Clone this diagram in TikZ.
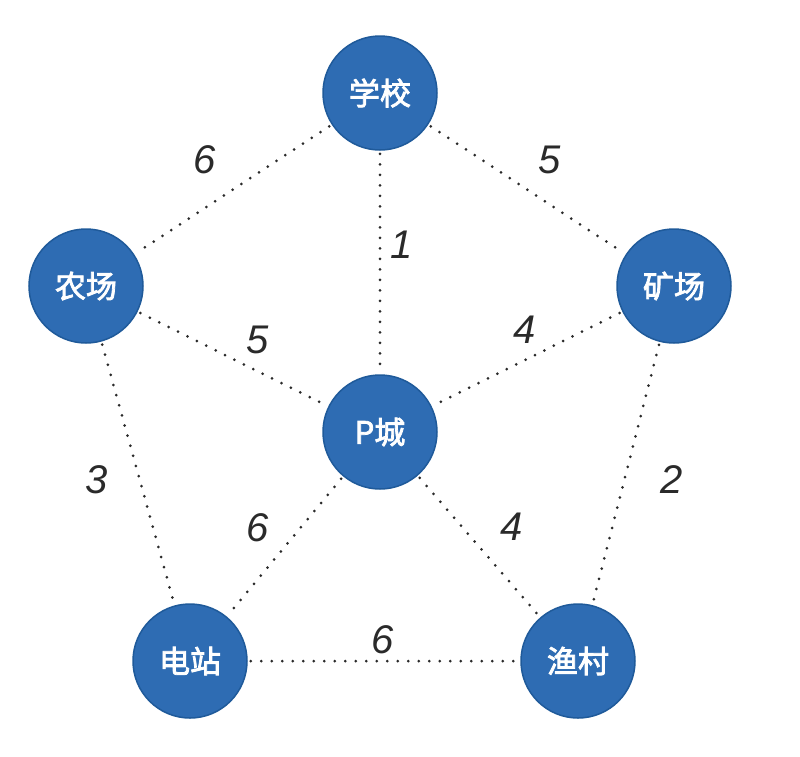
\documentclass[tikz,border=0pt]{standalone}
\usepackage{fontspec}
\setmainfont{Liberation Sans}
\newfontfamily\cjk{Noto Sans CJK SC}[FakeBold=2.5]
\definecolor{nodeblue}{HTML}{2E6CB3}
\definecolor{nodeedge}{HTML}{1F5A9A}
\definecolor{edgegray}{HTML}{2A2A2A}
\begin{document}
\begin{tikzpicture}[x=1pt,y=-1pt,
  city/.style={circle,fill=nodeblue,draw=nodeedge,line width=1.5pt,minimum size=114pt,inner sep=0pt,text=white,font=\cjk\fontsize{31}{31}\selectfont},
  road/.style={draw=edgegray,line width=3pt,dash pattern=on 0pt off 10.5pt,line cap=round,shorten >=3pt,shorten <=3pt},
  wt/.style={text=edgegray,font=\fontsize{40}{40}\selectfont\itshape}]
\useasboundingbox (0,0) rectangle (800,756);
\node[city] (school) at (380,93) {学校};
\node[city] (farm) at (86,286) {农场};
\node[city] (mine) at (674,286) {矿场};
\node[city] (p) at (380,432) {P城};
\node[city] (power) at (190,661) {电站};
\node[city] (fish) at (578,661) {渔村};
\draw[road] (school) -- (farm);
\draw[road] (school) -- (mine);
\draw[road] (school) -- (p);
\draw[road] (farm) -- (p);
\draw[road] (mine) -- (p);
\draw[road] (farm) -- (power);
\draw[road] (mine) -- (fish);
\draw[road] (p) -- (power);
\draw[road] (p) -- (fish);
\draw[road] (power) -- (fish);
\node[wt] (w1) at (205,160) {6};
\node[wt] (w2) at (550,160) {5};
\node[wt] (w3) at (402,245) {1};
\node[wt] (w4) at (258,340) {5};
\node[wt] (w5) at (525,330) {4};
\node[wt] (w6) at (97,480) {3};
\node[wt] (w7) at (672,480) {2};
\node[wt] (w8) at (258,528) {6};
\node[wt] (w9) at (512,527) {4};
\node[wt] (w10) at (383,640) {6};
\end{tikzpicture}
\end{document}
